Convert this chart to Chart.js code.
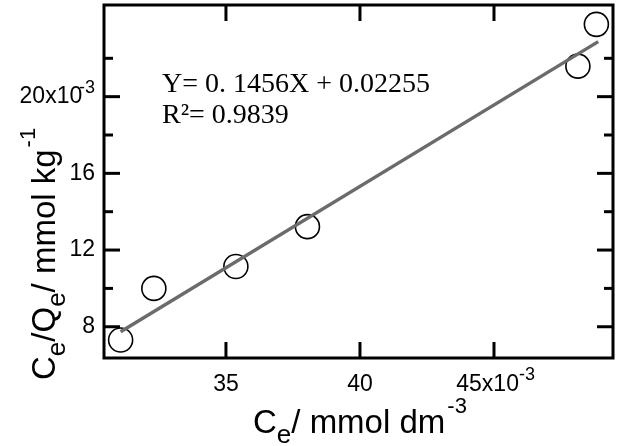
<!DOCTYPE html>
<html>
<head>
<meta charset="utf-8">
<script src="https://cdn.jsdelivr.net/npm/chart.js@4/dist/chart.umd.min.js"></script>
<style>
    body { margin: 0; background: #fff; }
    #wrap { width: 618px; height: 446px; position: relative; }
</style>
</head>
<body>
<div id="wrap"><canvas id="grafico"></canvas></div>
<script>
// Dados (unidades x10^-3)
const ceValores = [31.07, 32.31, 35.37, 38.04, 48.13, 48.82];
const ceQeValores = [7.31, 10.0, 11.14, 13.22, 21.59, 23.77];

// Reta de ajuste (extremos)
const ajusteX = [31.07, 48.89];
const ajusteY = [7.74, 22.87];

// Marcas dos eixos
const xTicks = [35, 40, 45];
const yMajor = [8, 12, 16, 20];
const yMinor = [10, 14, 18, 22];

const equacao = 'Y= 0. 1456X + 0.02255';
const r2 = 'R\u00B2= 0.9839';

const FONTE = '"Liberation Sans", Arial, sans-serif';
const TAM_TICK = 23;

// Desenha texto com sub/sobrescritos
function textoComposto(ctx, partes, x, y) {
    let cx = x;
    partes.forEach(p => {
        ctx.font = p.size + 'px ' + FONTE;
        ctx.fillText(p.text, cx, y + (p.dy || 0));
        cx += ctx.measureText(p.text).width + (p.gap || 0);
    });
}

function linha(ctx, x1, y1, x2, y2) {
    ctx.beginPath();
    ctx.moveTo(x1, y1);
    ctx.lineTo(x2, y2);
    ctx.stroke();
}

// Moldura, marcas internas, títulos e anotações
const moldura = {
    id: 'moldura',
    afterDraw(chart) {
        const { ctx, chartArea: a, scales: { x, y } } = chart;
        ctx.save();
        ctx.strokeStyle = '#000';
        ctx.lineWidth = 3;
        ctx.strokeRect(a.left, a.top, a.right - a.left, a.bottom - a.top);

        x.ticks.forEach(t => {
            const px = x.getPixelForValue(t.value);
            linha(ctx, px, a.bottom, px, a.bottom - 16);
            linha(ctx, px, a.top, px, a.top + 16);
        });
        y.ticks.forEach(t => {
            const py = y.getPixelForValue(t.value);
            const len = yMajor.includes(t.value) ? 16 : 9;
            linha(ctx, a.left, py, a.left + len, py);
            linha(ctx, a.right, py, a.right - len, py);
        });

        ctx.fillStyle = '#000';
        ctx.textBaseline = 'alphabetic';

        // expoentes dos ticks
        ctx.font = TAM_TICK + 'px ' + FONTE;
        const esp = ctx.measureText('  ').width;
        const wx = ctx.measureText('45x10  ').width;
        ctx.font = '18px ' + FONTE;
        ctx.textAlign = 'left';
        const px45 = x.getPixelForValue(45);
        ctx.fillText('-3', px45 + wx / 2 - esp, 380);
        ctx.textAlign = 'right';
        const py20 = y.getPixelForValue(20);
        ctx.fillText('-3', a.left - 9, py20 - 4);

        // títulos dos eixos
        ctx.textAlign = 'left';
        textoComposto(ctx, [
            { text: 'C', size: 33 },
            { text: 'e', size: 26, dy: 10 },
            { text: '/ mmol dm', size: 33, gap: 2 },
            { text: '-3', size: 22, dy: -20 }
        ], 253, 433);

        ctx.save();
        ctx.translate(55, 380);
        ctx.rotate(-Math.PI / 2);
        textoComposto(ctx, [
            { text: 'C', size: 33 },
            { text: 'e', size: 26, dy: 10 },
            { text: '/', size: 33 },
            { text: 'Q', size: 33 },
            { text: 'e', size: 26, dy: 10 },
            { text: '/ mmol kg', size: 33, gap: 2 },
            { text: '-1', size: 22, dy: -20 }
        ], 0, 0);
        ctx.restore();

        // equação do ajuste
        ctx.font = '28px "Liberation Serif", "Times New Roman", serif';
        ctx.fillText(equacao, 162, 92);
        ctx.fillText(r2, 162, 123);
        ctx.restore();
    }
};

const ctxGrafico = document.getElementById('grafico').getContext('2d');

new Chart(ctxGrafico, {
    type: 'scatter',
    data: {
        datasets: [{
            data: ajusteX.map((v, i) => ({ x: v, y: ajusteY[i] })),
            showLine: true,
            borderColor: '#6b6b6b',
            borderWidth: 3.5,
            pointRadius: 0
        }, {
            data: ceValores.map((v, i) => ({ x: v, y: ceQeValores[i] })),
            pointRadius: 12,
            pointBorderWidth: 1.6,
            pointBorderColor: '#000',
            pointBackgroundColor: 'rgba(0,0,0,0)',
            clip: false
        }]
    },
    options: {
        responsive: true,
        maintainAspectRatio: false,
        animation: false,
        layout: { autoPadding: false, padding: { top: 5, right: 5, left: 0, bottom: 0 } },
        plugins: {
            legend: { display: false },
            tooltip: { enabled: false }
        },
        scales: {
            x: {
                type: 'linear',
                min: 30.45,
                max: 49.44,
                grid: { display: false, drawTicks: false },
                border: { display: false },
                afterBuildTicks: scale => { scale.ticks = xTicks.map(v => ({ value: v })); },
                afterFit: scale => {
                    scale.height = 88;
                    scale.paddingLeft = 0;
                    scale.paddingRight = 0;
                },
                ticks: {
                    autoSkip: false,
                    maxRotation: 0,
                    padding: 13,
                    color: '#000',
                    font: { family: FONTE, size: TAM_TICK },
                    callback: v => v === 45 ? '45x10  ' : String(v)
                }
            },
            y: {
                type: 'linear',
                min: 6.37,
                max: 24.78,
                grid: { display: false, drawTicks: false },
                border: { display: false },
                afterBuildTicks: scale => {
                    scale.ticks = yMajor.concat(yMinor).sort((a, b) => a - b).map(v => ({ value: v }));
                },
                afterFit: scale => {
                    scale.width = 104;
                    scale.paddingTop = 0;
                    scale.paddingBottom = 0;
                },
                ticks: {
                    autoSkip: false,
                    padding: 9,
                    color: '#000',
                    font: { family: FONTE, size: TAM_TICK },
                    callback: v => yMajor.includes(v) ? (v === 20 ? '20x10  ' : String(v)) : ''
                }
            }
        }
    },
    plugins: [moldura]
});
</script>
</body>
</html>
